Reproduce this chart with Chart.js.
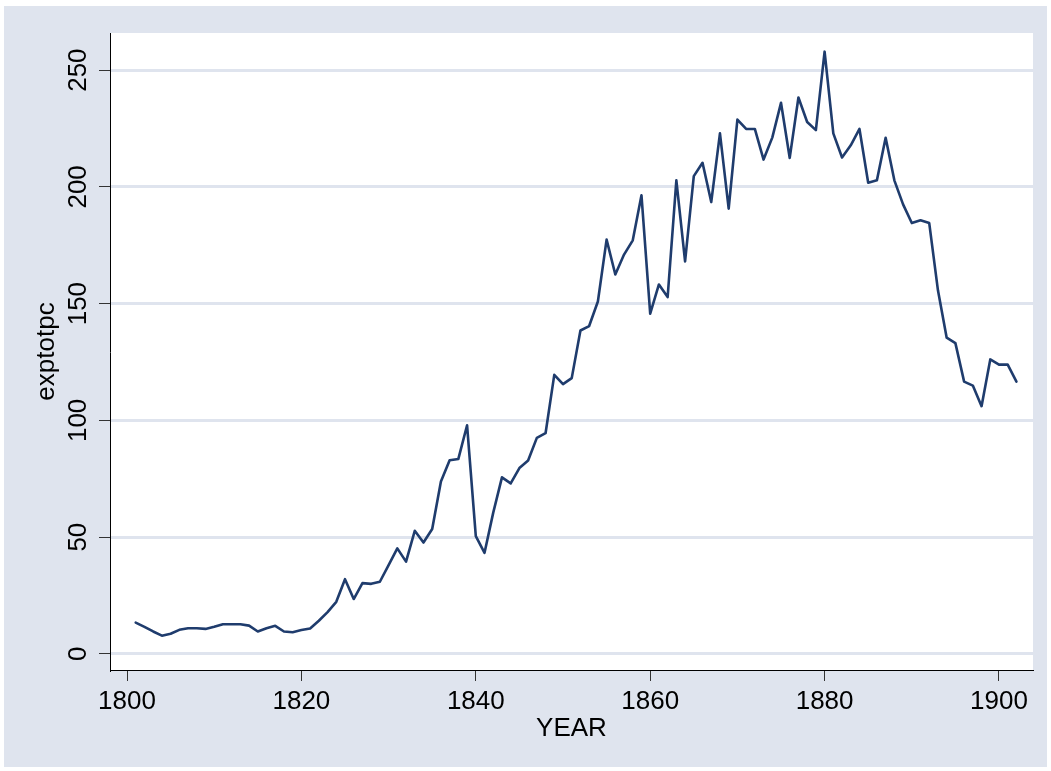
<!DOCTYPE html>
<html>
<head>
<meta charset="utf-8">
<title>exptotpc by YEAR</title>
<script src="https://cdn.jsdelivr.net/npm/chart.js@4/dist/chart.umd.min.js"></script>
<style>
  html, body { margin: 0; padding: 0; background: #ffffff; }
  #wrap { width: 1051px; height: 771px; position: relative; }
</style>
</head>
<body>
<div id="wrap"><canvas id="chart"></canvas></div>
<script>
// data
const years = [
  1801, 1802, 1803, 1804, 1805, 1806, 1807, 1808, 1809, 1810,
  1811, 1812, 1813, 1814, 1815, 1816, 1817, 1818, 1819, 1820,
  1821, 1822, 1823, 1824, 1825, 1826, 1827, 1828, 1829, 1830,
  1831, 1832, 1833, 1834, 1835, 1836, 1837, 1838, 1839, 1840,
  1841, 1842, 1843, 1844, 1845, 1846, 1847, 1848, 1849, 1850,
  1851, 1852, 1853, 1854, 1855, 1856, 1857, 1858, 1859, 1860,
  1861, 1862, 1863, 1864, 1865, 1866, 1867, 1868, 1869, 1870,
  1871, 1872, 1873, 1874, 1875, 1876, 1877, 1878, 1879, 1880,
  1881, 1882, 1883, 1884, 1885, 1886, 1887, 1888, 1889, 1890,
  1891, 1892, 1893, 1894, 1895, 1896, 1897, 1898, 1899, 1900,
  1901, 1902
];
const exptotpc = [
  13.4, 11.6, 9.6, 7.8, 8.6, 10.3, 11.0, 11.0, 10.7, 11.6,
  12.7, 12.7, 12.7, 12.1, 9.6, 11.0, 12.0, 9.6, 9.3, 10.2,
  10.9, 14.2, 17.9, 22.3, 32.0, 23.5, 30.3, 30.0, 30.9, 38.0,
  45.2, 39.5, 52.7, 47.7, 53.5, 73.8, 82.9, 83.5, 97.9, 50.4,
  43.3, 60.5, 75.6, 73.0, 79.6, 82.8, 92.5, 94.5, 119.5, 115.5,
  118.1, 138.5, 140.4, 150.9, 177.4, 162.5, 171.0, 177.1, 196.4, 145.7,
  158.2, 152.8, 202.8, 168.1, 204.6, 210.3, 193.5, 222.9, 190.7, 228.8,
  224.8, 224.8, 211.7, 221.1, 236.0, 212.4, 238.3, 227.8, 224.3, 257.9,
  222.9, 212.6, 217.8, 224.8, 201.8, 202.8, 221.0, 202.8, 192.5, 184.5,
  185.7, 184.5, 155.7, 135.4, 133.1, 116.6, 114.9, 106.1, 126.1, 123.9,
  123.9, 116.6
];
const xTicks = [1800, 1820, 1840, 1860, 1880, 1900];
const yTicks = [0, 50, 100, 150, 200, 250];

const bluish = "#dfe4ee";
const fontFamily = "'Liberation Sans', Arial, Helvetica, sans-serif";

// Stata-like frame: grey-blue graph region, white plot region, rotated y labels
const stataFrame = {
  id: "stataFrame",
  beforeDraw(chart) {
    const { ctx, chartArea } = chart;
    ctx.save();
    ctx.fillStyle = bluish;
    ctx.fillRect(4, 6, 1043, 761);
    ctx.fillStyle = "#ffffff";
    ctx.fillRect(chartArea.left, chartArea.top,
      chartArea.right - chartArea.left, chartArea.bottom - chartArea.top);
    ctx.restore();
  },
  afterDraw(chart) {
    const { ctx } = chart;
    const y = chart.scales.y;
    ctx.save();
    ctx.fillStyle = "#000000";
    ctx.font = "26px " + fontFamily;
    ctx.textAlign = "center";
    ctx.textBaseline = "middle";
    y.ticks.forEach(t => {
      ctx.save();
      ctx.translate(79, y.getPixelForValue(t.value));
      ctx.rotate(-Math.PI / 2);
      ctx.fillText(String(t.value), 0, 0);
      ctx.restore();
    });
    ctx.restore();
  }
};

new Chart(document.getElementById("chart"), {
  type: "line",
  data: {
    datasets: [{
      label: "exptotpc",
      data: years.map((yr, i) => ({ x: yr, y: exptotpc[i] })),
      borderColor: "#1f3c6d",
      borderWidth: 2.6,
      borderJoinStyle: "round",
      borderCapStyle: "round",
      pointRadius: 0,
      tension: 0,
      fill: false
    }]
  },
  options: {
    responsive: true,
    maintainAspectRatio: false,
    animation: false,
    layout: { padding: { left: 0, top: 33, right: 18, bottom: 0 } },
    plugins: {
      legend: { display: false },
      tooltip: { enabled: false }
    },
    scales: {
      x: {
        type: "linear",
        min: 1798.05,
        max: 1903.9,
        afterBuildTicks: axis => { axis.ticks = xTicks.map(v => ({ value: v })); },
        afterFit: axis => { axis.height = 101; },
        border: { display: true, color: "#000000", width: 1 },
        grid: {
          drawOnChartArea: false,
          drawTicks: true,
          tickLength: 11,
          tickColor: "#333333",
          tickWidth: 1
        },
        ticks: {
          color: "#000000",
          font: { family: fontFamily, size: 26 },
          padding: 5,
          maxRotation: 0,
          callback: v => String(v)
        },
        title: {
          display: true,
          text: "YEAR",
          color: "#000000",
          font: { family: fontFamily, size: 26 },
          padding: { top: 0, bottom: 27 }
        }
      },
      y: {
        type: "linear",
        min: -6.9,
        max: 265.9,
        afterBuildTicks: axis => { axis.ticks = yTicks.map(v => ({ value: v })); },
        afterFit: axis => { axis.width = 110; },
        border: { display: true, color: "#000000", width: 1 },
        grid: {
          color: bluish,
          lineWidth: 3,
          drawTicks: true,
          tickLength: 11,
          tickColor: "#333333",
          tickWidth: 1
        },
        ticks: { display: false },
        title: {
          display: true,
          text: "exptotpc",
          color: "#000000",
          font: { family: fontFamily, size: 26 },
          padding: { top: 31, bottom: 0 }
        }
      }
    }
  },
  plugins: [stataFrame]
});
</script>
</body>
</html>
